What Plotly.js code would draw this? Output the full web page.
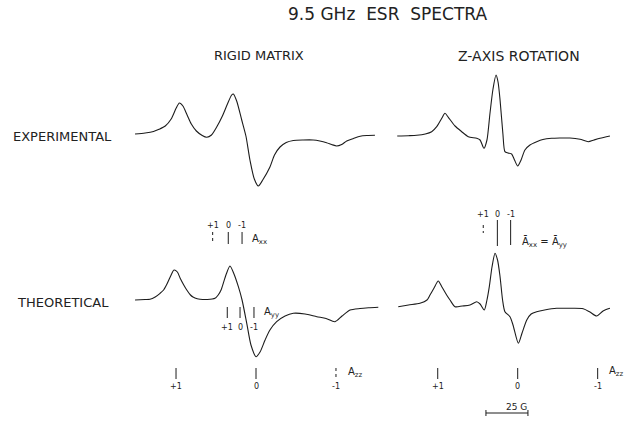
<!DOCTYPE html>
<html>
<head>
<meta charset="utf-8">
<script src="https://cdn.plot.ly/plotly-3.0.1.min.js"></script>
<style>html,body{margin:0;padding:0;background:#fff;}#chart{width:631px;height:425px;}</style>
</head>
<body>
<div id="chart"></div>
<script>
// Field offsets in gauss (relative to m_I = 0 line), amplitudes in arbitrary units
const fieldTL = [-72,-66,-61,-57.7,-54,-50.5,-47.5,-45.6,-43.5,-41,-38.5,-35.5,-32,-29.3,-26.5,-23.4,-20,-17,-14.5,-13.5,-11.5,-8.5,-6,-3.6,-1,1.4,4,8.3,11,14.3,18,22.2,28,34,38,42,45,48,51,54,58,62,66,70.8];
const ampTL   = [0,1,2.5,4.7,8,15,26,31,28,19,10,3,-1.5,-3.3,-1,7,18,30,39,40,33,14,-2,-26,-45,-52,-46,-33,-21,-13,-8.5,-6.5,-6,-6,-7,-8.7,-10.5,-12,-10.5,-7,-4.5,-2.2,-1.5,-1.3];

const fieldTR = [-71.7,-65,-60.1,-55,-51.2,-48.2,-45.2,-43.3,-41.3,-37.3,-33.3,-29.4,-24.4,-22.4,-20.1,-18.3,-16.5,-14.7,-12.9,-11.7,-10.5,-8.8,-7.6,-5.8,-3.6,-1.9,0,2,4.3,7.3,11.3,15,20.2,25,31.1,37.1,42,45.4,49,54.9];
const ampTR   = [-2,-1.7,-1.3,0,2.3,7.3,15.7,20.7,16.7,8,2.3,-2.7,-4.3,-6,-14.3,-6,20.7,45,59,52,34,0,-17.7,-19,-20,-26,-32,-26,-16,-11,-7.7,-5.5,-4.3,-4,-4,-5.3,-7.7,-6,-4.3,-2];

const fieldBL = [-72,-66,-63.1,-60,-57.1,-55,-53,-50.8,-48.8,-46.8,-45.2,-43,-41.2,-39,-37.5,-35,-33.3,-29,-24.4,-22.5,-20.8,-17.9,-15.5,-13.1,-10.5,-8.3,-5.5,-3,0,2.4,5.4,8.3,12.3,17.3,22.2,29.2,36.2,41.7,47,51.2,56,61.9,67,72.8];
const ampBL   = [0,0.5,0.7,3,6.7,10,16,24,30,28,22,15,10,5,3,1.2,0.7,0.5,1.7,5,10,25,34,26,13.3,0,-23.3,-45,-56.7,-52,-40,-30,-21.7,-16,-13.3,-14,-16.7,-18.5,-21.7,-16,-10,-8.5,-7.8,-7.3];

const fieldBR = [-71.1,-65,-58.2,-54,-52.2,-49.8,-47.3,-45.1,-42.3,-40.3,-37.3,-33,-28.4,-24.4,-22.4,-19.9,-18.3,-16.9,-15.3,-13.5,-12,-10.5,-9,-7.6,-4.6,-2.8,0.4,2.6,5.4,8,11.3,16,23.2,31,39,43,47,50.8,54.9];
const ampBR   = [-6.7,-5,-3.3,0,5,12,19,13,5,0,-6.7,-6,-5,-1.7,-4,-10,0,13.3,33,46.7,40,23.3,0,-11.7,-16.7,-25,-43.3,-33,-20,-14,-11.7,-10,-8.3,-8.3,-8.7,-12,-16,-11,-8.3];

// Hyperfine stick positions (gauss)
const mLabels   = ["+1", "0", "-1"];
const azzPos    = [-47.6, 0, 47.6];
const axxLeft   = [-25.8, -16.5, -8.3];
const ayyLeft   = [-17.1, -9.5, -1.2];
const axxRight  = [-20.5, -12.1, -4.2];
const scaleBarStart = -18.9;
const scaleBarLength = 25; // G

const s = 25 / 42; // gauss per pixel
const lineColor = '#1c1c1c';
const font = 'DejaVu Sans, Liberation Sans, sans-serif';

function curve(x, y, xa, ya) {
  return {x, y, xaxis: xa, yaxis: ya, type: 'scatter', mode: 'lines',
    line: {color: lineColor, width: 1.1, shape: 'spline', smoothing: 0.7},
    hoverinfo: 'skip', showlegend: false};
}
function sticks(pos, y0, y1, xa, ya, dash) {
  const traces = [];
  pos.forEach((p, i) => {
    const yy0 = Array.isArray(y0) ? y0[i] : y0;
    const yy1 = Array.isArray(y1) ? y1[i] : y1;
    traces.push({x: [p, p], y: [yy0, yy1], xaxis: xa, yaxis: ya, type: 'scatter', mode: 'lines',
      line: {color: lineColor, width: 1, dash: dash[i] ? 'dot' : 'solid'},
      hoverinfo: 'skip', showlegend: false});
  });
  return traces;
}
function labels(pos, y, xa, ya, size) {
  return pos.map((p, i) => ({x: p, y: y, xref: xa, yref: ya, text: mLabels[i], showarrow: false,
    font: {family: font, size: size || 8, color: '#222'}, xanchor: 'center', yanchor: 'middle'}));
}

const data = [
  curve(fieldTL, ampTL, 'x', 'y'),
  curve(fieldTR, ampTR, 'x2', 'y'),
  curve(fieldBL, ampBL, 'x', 'y2'),
  curve(fieldBR, ampBR, 'x2', 'y2'),
  ...sticks(axxLeft, 68, 56, 'x', 'y2', [true, false, false]),
  ...sticks(ayyLeft, -7, -18, 'x', 'y2', [false, false, false]),
  ...sticks(azzPos, -68, -79, 'x', 'y2', [false, false, true]),
  ...sticks(axxRight, [75, 80, 80], [67, 54, 55], 'x2', 'y2', [true, false, false]),
  ...sticks(azzPos, -68, -79, 'x2', 'y2', [false, false, false]),
  {x: [scaleBarStart, scaleBarStart + scaleBarLength], y: [-113, -113], xaxis: 'x2', yaxis: 'y2',
   type: 'scatter', mode: 'lines', line: {color: lineColor, width: 1}, hoverinfo: 'skip', showlegend: false},
  ...sticks([scaleBarStart, scaleBarStart + scaleBarLength], -110, -116, 'x2', 'y2', [false, false])
];

const annotations = [
  {text: '9.5 GHz&nbsp; ESR&nbsp; SPECTRA', xref: 'paper', yref: 'paper', x: 388/631, y: 1 - 14/425,
   showarrow: false, font: {family: font, size: 17, color: '#222'}, xanchor: 'center', yanchor: 'middle'},
  {text: 'RIGID MATRIX', xref: 'x', yref: 'paper', x: 2, y: 1 - 55.5/425,
   showarrow: false, font: {family: font, size: 13, color: '#222'}, xanchor: 'center', yanchor: 'middle'},
  {text: 'Z-AXIS ROTATION', xref: 'x2', yref: 'paper', x: 1, y: 1 - 55.5/425,
   showarrow: false, font: {family: font, size: 14, color: '#222'}, xanchor: 'center', yanchor: 'middle'},
  {text: 'EXPERIMENTAL', xref: 'paper', yref: 'paper', x: 11/631, y: 1 - 136.5/425,
   showarrow: false, font: {family: font, size: 13, color: '#222'}, xanchor: 'left', yanchor: 'middle'},
  {text: 'THEORETICAL', xref: 'paper', yref: 'paper', x: 15/631, y: 1 - 302/425,
   showarrow: false, font: {family: font, size: 13, color: '#222'}, xanchor: 'left', yanchor: 'middle'},
  ...labels(axxLeft, 75, 'x', 'y2'),
  ...labels(ayyLeft, -27, 'x', 'y2'),
  ...labels(azzPos, -86, 'x', 'y2'),
  ...labels(axxRight, 86, 'x2', 'y2'),
  ...labels(azzPos, -86, 'x2', 'y2'),
  {text: 'A<sub>xx</sub>', x: -3.6, y: 61, xref: 'x', yref: 'y2', showarrow: false, xanchor: 'left', yanchor: 'middle',
   font: {family: font, size: 10, color: '#222'}},
  {text: 'A<sub>yy</sub>', x: 3.5, y: -12, xref: 'x', yref: 'y2', showarrow: false, xanchor: 'left', yanchor: 'middle',
   font: {family: font, size: 10, color: '#222'}},
  {text: 'A<sub>zz</sub>', x: 53.6, y: -72, xref: 'x', yref: 'y2', showarrow: false, xanchor: 'left', yanchor: 'middle',
   font: {family: font, size: 10, color: '#222'}},
  {text: 'A<sub>zz</sub>', x: 53.2, y: -71, xref: 'x2', yref: 'y2', showarrow: false, xanchor: 'left', yanchor: 'middle',
   font: {family: font, size: 10, color: '#222'}},
  {text: 'Ā<sub>xx</sub> = Ā<sub>yy</sub>', x: 1.4, y: 58, xref: 'x2', yref: 'y2', showarrow: false, xanchor: 'left', yanchor: 'middle',
   font: {family: font, size: 10, color: '#222'}},
  {text: '25 G', x: scaleBarStart + scaleBarLength * 0.72, y: -107, xref: 'x2', yref: 'y2', showarrow: false,
   xanchor: 'center', yanchor: 'middle', font: {family: font, size: 9, color: '#222'}}
];

const hidden = {visible: false, showgrid: false, zeroline: false, fixedrange: true};
const layout = {
  width: 631, height: 425,
  margin: {l: 0, r: 0, t: 0, b: 0},
  paper_bgcolor: '#fff', plot_bgcolor: '#fff',
  xaxis:  Object.assign({}, hidden, {domain: [0, 1], range: [-256 * s, (631 - 256) * s]}),
  xaxis2: Object.assign({}, hidden, {domain: [0, 1], range: [-517.7 * s, (631 - 517.7) * s], overlaying: 'x'}),
  yaxis:  Object.assign({}, hidden, {domain: [0, 1], range: [-291, 134]}),
  yaxis2: Object.assign({}, hidden, {domain: [0, 1], range: [-125, 300], overlaying: 'y'}),
  annotations: annotations,
  showlegend: false
};

Plotly.newPlot('chart', data, layout, {staticPlot: true, displayModeBar: false});
</script>
</body>
</html>
